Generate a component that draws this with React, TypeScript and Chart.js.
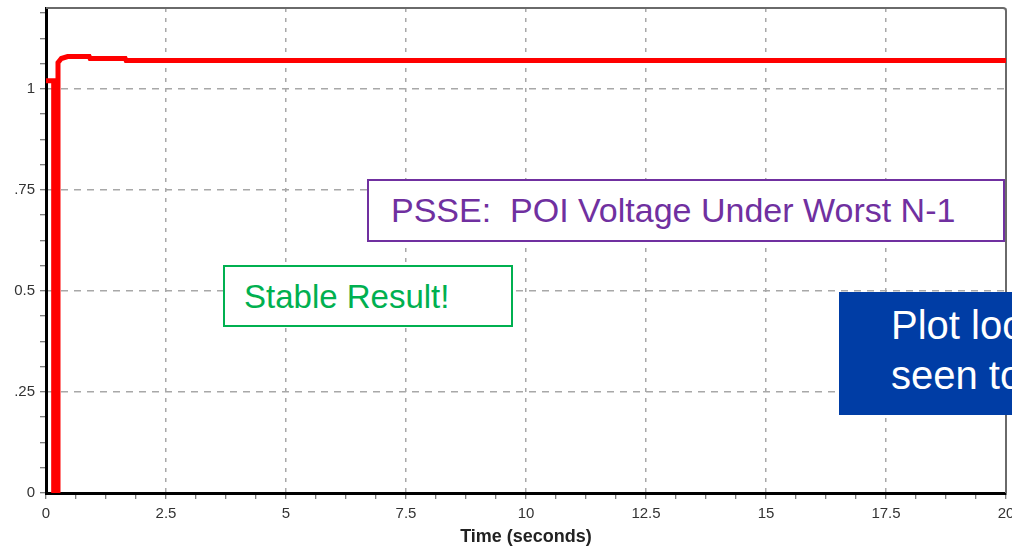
import React, { useEffect, useRef } from "react";
import { Chart, registerables } from "chart.js";

Chart.register(...registerables);

// ---- data ----
const timeSeconds = [0, 0.16, 0.16, 0.25, 0.25, 0.32, 0.45, 0.9, 0.92, 1.65, 1.67, 20];
const poiVoltage = [1.02, 1.02, 0, 0, 1.065, 1.075, 1.08, 1.08, 1.075, 1.075, 1.07, 1.07];

const xTickValues = [0, 2.5, 5, 7.5, 10, 12.5, 15, 17.5, 20];
const xTickLabels = ["0", "2.5", "5", "7.5", "10", "12.5", "15", "17.5", "20"];
const yTickValues = [0, 0.25, 0.5, 0.75, 1];
const yTickLabels = ["0", ".25", "0.5", ".75", "1"];

const xTitle = "Time (seconds)";
const purpleNote = "PSSE:  POI Voltage Under Worst N-1";
const greenNote = "Stable Result!";
const blueNoteLines = ["Plot looks", "seen to"];

const FONT = "'Liberation Sans', Arial, Helvetica, sans-serif";

const findLabel = (vals: number[], labels: string[], v: number) => {
  const i = vals.findIndex((x) => Math.abs(x - v) < 1e-6);
  return i >= 0 ? labels[i] : "";
};
const isMajor = (vals: number[], v: number) => vals.some((x) => Math.abs(x - v) < 1e-6);

const framePlugin = {
  id: "frame",
  beforeDatasetsDraw(chart: any) {
    const { ctx, chartArea } = chart;
    const { left, top, right, bottom } = chartArea;
    ctx.save();
    ctx.strokeStyle = "#6a6a6a";
    ctx.lineWidth = 2;
    ctx.beginPath();
    ctx.moveTo(left, top);
    ctx.lineTo(right - 3, top);
    ctx.arcTo(right, top, right, top + 3, 3);
    ctx.lineTo(right, bottom);
    ctx.stroke();
    ctx.restore();
  },
};

export default function App() {
  const canvasRef = useRef<HTMLCanvasElement | null>(null);

  useEffect(() => {
    const canvas = canvasRef.current;
    if (!canvas) return;
    const chart = new Chart(canvas, {
      type: "line",
      data: {
        datasets: [
          {
            data: timeSeconds.map((t, i) => ({ x: t, y: poiVoltage[i] })),
            borderColor: "#ff0000",
            backgroundColor: "#ff0000",
            borderWidth: 5,
            pointRadius: 0,
            tension: 0,
            fill: false,
            borderJoinStyle: "miter",
            borderCapStyle: "butt",
          },
        ],
      },
      options: {
        animation: false,
        responsive: false,
        maintainAspectRatio: false,
        layout: { padding: { top: 8, right: 6, left: 0, bottom: 0 } },
        plugins: {
          legend: { display: false },
          tooltip: { enabled: false },
        },
        scales: {
          x: {
            type: "linear",
            min: 0,
            max: 20,
            afterBuildTicks: (s: any) => {
              const t = [];
              for (let i = 0; i <= 32; i++) t.push({ value: i * 0.625 });
              s.ticks = t;
            },
            afterFit: (s: any) => {
              s.height = 57;
              s.paddingLeft = 0;
              s.paddingRight = 0;
            },
            ticks: {
              autoSkip: false,
              maxRotation: 0,
              minRotation: 0,
              padding: 6,
              color: "#333",
              font: { family: FONT, size: 15 },
              callback: (v: any) => findLabel(xTickValues, xTickLabels, Number(v)),
            },
            grid: {
              color: (c: any) =>
                c.tick && isMajor(xTickValues, c.tick.value) ? "#a8a8a8" : "rgba(0,0,0,0)",
              lineWidth: 1.5,
              tickColor: "#555",
              tickLength: 6,
              tickWidth: 1,
            },
            border: { color: "#000", width: 3, dash: [4, 6] },
            title: {
              display: true,
              text: xTitle,
              color: "#222",
              font: { family: FONT, size: 18, weight: "bold" },
              padding: { top: 0, bottom: 2 },
            },
          },
          y: {
            type: "linear",
            min: 0,
            max: 1.2,
            afterBuildTicks: (s: any) => {
              const t = [];
              for (let i = 0; i <= 19; i++) t.push({ value: i * 0.0625 });
              s.ticks = t;
            },
            afterFit: (s: any) => {
              s.width = 46;
              s.paddingTop = 0;
              s.paddingBottom = 0;
            },
            ticks: {
              autoSkip: false,
              padding: 5,
              color: "#333",
              font: { family: FONT, size: 15 },
              callback: (v: any) => findLabel(yTickValues, yTickLabels, Number(v)),
            },
            grid: {
              color: (c: any) =>
                c.tick && isMajor(yTickValues, c.tick.value) && c.tick.value > 0
                  ? "#a8a8a8"
                  : "rgba(0,0,0,0)",
              lineWidth: 1.5,
              tickColor: "#555",
              tickLength: 6,
              tickWidth: 1,
            },
            border: { color: "#000", width: 3, dash: [7, 6] },
          },
        },
      },
      plugins: [framePlugin],
    } as any);
    return () => chart.destroy();
  }, []);

  return (
    <div
      style={{
        position: "fixed",
        left: 0,
        top: 0,
        width: 1012,
        height: 550,
        overflow: "hidden",
        background: "#fff",
        fontFamily: FONT,
      }}
    >
      <canvas ref={canvasRef} width={1012} height={550} style={{ display: "block" }} />
      {/* purple note */}
      <div
        style={{
          position: "absolute",
          left: 367,
          top: 179,
          width: 638,
          height: 63,
          boxSizing: "border-box",
          border: "2px solid #7030A0",
          background: "#fff",
        }}
      />
      <div
        style={{
          position: "absolute",
          left: 391,
          top: 193,
          fontSize: 34,
          lineHeight: "34px",
          color: "#7030A0",
          whiteSpace: "pre",
        }}
      >
        {purpleNote}
      </div>
      {/* green note */}
      <div
        style={{
          position: "absolute",
          left: 223,
          top: 265,
          width: 290,
          height: 62,
          boxSizing: "border-box",
          border: "2px solid #00B050",
          background: "#fff",
        }}
      />
      <div
        style={{
          position: "absolute",
          left: 244,
          top: 280,
          fontSize: 33,
          lineHeight: "33px",
          color: "#00B050",
          whiteSpace: "pre",
        }}
      >
        {greenNote}
      </div>
      {/* blue note */}
      <div
        style={{
          position: "absolute",
          left: 839,
          top: 292,
          width: 320,
          height: 123,
          background: "#003DA5",
        }}
      />
      {blueNoteLines.map((line, i) => (
        <div
          key={i}
          style={{
            position: "absolute",
            left: 891,
            top: 305 + i * 50,
            fontSize: 40,
            lineHeight: "40px",
            color: "#fff",
            whiteSpace: "pre",
          }}
        >
          {line}
        </div>
      ))}
    </div>
  );
}
